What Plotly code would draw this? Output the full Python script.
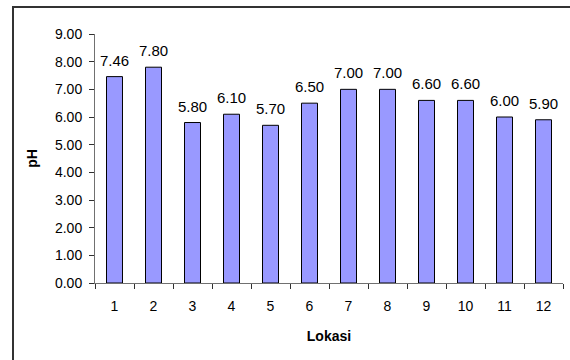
import plotly.graph_objects as go

lokasi = ["1", "2", "3", "4", "5", "6", "7", "8", "9", "10", "11", "12"]
ph = [7.46, 7.80, 5.80, 6.10, 5.70, 6.50, 7.00, 7.00, 6.60, 6.60, 6.00, 5.90]
y_ticks = [0, 1, 2, 3, 4, 5, 6, 7, 8, 9]

W, H = 570, 360
L, R, T, B = 95, 7, 34, 77
pw, ph_px = W - L - R, H - T - B

def px_x(x):
    return (x - L) / pw

def px_y(y):
    return (H - B - y) / ph_px

fig = go.Figure(
    go.Bar(
        x=lokasi,
        y=ph,
        marker=dict(color="#9999FF", line=dict(color="#000000", width=1)),
        width=0.41,
    )
)

# value labels sitting a little above each bar (category axis positions are indices)
for i, v in enumerate(ph):
    fig.add_annotation(
        x=i,
        y=v,
        text=f"{v:.2f}",
        showarrow=False,
        xanchor="center",
        yanchor="bottom",
        yshift=6,
        font=dict(family="Liberation Sans, Arial", size=15, color="#000000"),
    )

fig.update_layout(
    width=W,
    height=H,
    margin=dict(l=L, r=R, t=T, b=B),
    paper_bgcolor="white",
    plot_bgcolor="white",
    showlegend=False,
    font=dict(family="Liberation Sans, Arial", size=14, color="#000000"),
    xaxis=dict(
        type="category",
        categoryorder="array",
        categoryarray=lokasi,
        range=[-0.5, len(lokasi) - 0.5],
        showgrid=False,
        showline=True,
        linecolor="#707070",
        linewidth=1,
        ticks="outside",
        tickson="boundaries",
        ticklen=5,
        tickcolor="#303030",
        tickfont=dict(size=14),
        ticklabelstandoff=10,
        title=dict(text="<b>Lokasi</b>", font=dict(size=14), standoff=18),
    ),
    yaxis=dict(
        range=[0, 9],
        tickvals=y_ticks,
        tickformat=".2f",
        showgrid=False,
        zeroline=False,
        showline=True,
        linecolor="#707070",
        linewidth=1,
        ticks="outside",
        ticklen=5,
        tickcolor="#303030",
        tickfont=dict(size=14),
        ticklabelstandoff=4,
        title=dict(text="<b>pH</b>", font=dict(size=14), standoff=14),
    ),
    shapes=[
        dict(
            type="rect",
            xref="paper",
            yref="paper",
            x0=px_x(13),
            x1=px_x(575),
            y0=px_y(366),
            y1=px_y(7),
            line=dict(color="#333333", width=2),
            fillcolor="rgba(0,0,0,0)",
            layer="below",
        )
    ],
)

fig.write_html("out.html")
